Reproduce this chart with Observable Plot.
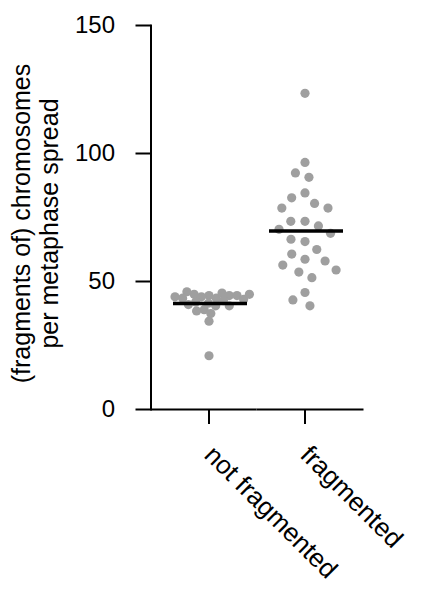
<!DOCTYPE html>
<html>
<head>
<meta charset="utf-8">
<script src="https://cdn.jsdelivr.net/npm/d3@7"></script>
<script src="https://cdn.jsdelivr.net/npm/@observablehq/plot@0.6"></script>
<style>
  html, body { margin: 0; padding: 0; background: #fff; }
  #chart { width: 422px; height: 596px; }
</style>
</head>
<body>
<div id="chart"></div>
<script>
const groups = ["not fragmented", "fragmented"];
const notFragmented = [44.5, 44, 43.5, 45.5, 45, 44.5, 46, 44.5, 43.5, 42.5, 42, 41.5, 41, 40.5, 40.5, 39, 38.5, 37.5, 34.5, 21, 44, 43, 45];
const fragmented = [123.5, 96.5, 92.4, 90.7, 84.6, 82.7, 80.5, 78.7, 78.7, 73.5, 73.5, 71.7, 70.4, 68.8, 65.6, 66.5, 62.5, 58.7, 60.7, 58, 56.4, 54.5, 53.7, 51.5, 45.7, 42.8, 40.5];
const yTicks = [0, 50, 100, 150];
const yLabel = "(fragments of) chromosomes\nper metaphase spread";

const data = [
  ...notFragmented.map(v => ({group: groups[0], value: v})),
  ...fragmented.map(v => ({group: groups[1], value: v}))
];
const dataNF = data.filter(d => d.group === groups[0]);
const dataF = data.filter(d => d.group === groups[1]);

try {
  const chart = Plot.plot({
    width: 422,
    height: 596,
    marginLeft: 150,
    marginRight: 59,
    marginTop: 25,
    marginBottom: 187,
    style: {fontFamily: "'Liberation Sans', Arial, sans-serif", fontSize: "24px", color: "#000", background: "#fff"},
    fx: {domain: groups, range: [169.5, 342.5], paddingInner: 0.2, paddingOuter: 0, label: null},
    x: {axis: null},
    y: {domain: [0, 150], axis: null},
    marks: [
      Plot.axisY({ticks: yTicks, tickSize: 15, tickPadding: 21, strokeWidth: 2, label: null, fontSize: 24, dx: -19.5}),
      Plot.frame({anchor: "left", facetAnchor: "left", dx: -19.5, strokeWidth: 2}),
      Plot.ruleY([0], {fx: () => groups[0], insetLeft: -19.5, insetRight: -9.5, strokeWidth: 2, stroke: "#000"}),
      Plot.ruleY([0], {fx: () => groups[1], insetLeft: -9.5, insetRight: -20.5, strokeWidth: 2, stroke: "#000"}),
      Plot.axisFx({anchor: "bottom", tickSize: 15, tickRotate: 45, tickPadding: 26, strokeWidth: 2, label: null, fontSize: 26}),
      Plot.dot(dataNF, Plot.dodgeX({anchor: "middle", padding: -1.5}, {fx: "group", y: "value", r: 4.6, fill: "#9f9f9f"})),
      Plot.dot(dataF, Plot.dodgeX({anchor: "middle", padding: 5}, {fx: "group", y: "value", r: 4.6, fill: "#9f9f9f"})),
      Plot.ruleY(data, Plot.groupZ({y: "mean"}, {fx: "group", y: "value", stroke: "#000", strokeWidth: 3.5, insetLeft: 3})),
      Plot.text([yLabel], {facetAnchor: "left", frameAnchor: "left", textAnchor: "middle", rotate: -90, dx: -135, dy: 6, lineHeight: 1.12, fontSize: 25})
    ]
  });
  document.getElementById("chart").append(chart);
} catch (e) {
  document.getElementById("chart").textContent = "ERR " + e.message + " v" + Plot.version;
}
</script>
</body>
</html>
